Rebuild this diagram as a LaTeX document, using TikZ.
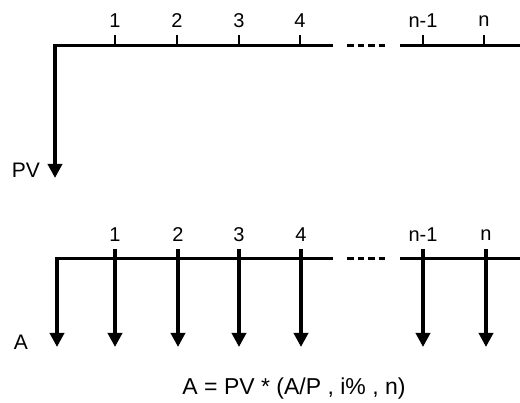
\documentclass[tikz,border=0pt]{standalone}
\usepackage{fontspec}
\setmainfont{Liberation Sans}
\usetikzlibrary{arrows.meta}
\tikzset{
  axis/.style={line width=3pt, line cap=butt},
  down/.style={line width=4pt, -{Triangle[width=14pt,length=14pt]}},
  tick/.style={line width=2pt},
  dots/.style={line width=3pt, dash pattern=on 6.5pt off 4pt},
  num/.style={font=\fontsize{20}{22}\selectfont, inner sep=0pt},
  lbl/.style={font=\fontsize{21}{23}\selectfont, inner sep=0pt},
}
\begin{document}
\begin{tikzpicture}[x=1pt,y=-1pt]
\useasboundingbox[fill=white] (0,0) rectangle (520,403);
% ---------- top diagram ----------
\coordinate (tc) at (55,46);
\coordinate (tpv) at (55,178);
\coordinate (ta) at (333,46);
\coordinate (td1) at (347,46);
\coordinate (td2) at (386,46);
\coordinate (tb) at (400,46);
\coordinate (te) at (520,46);
\draw[axis] (53,46) -- (ta);
\draw[dots] (td1) -- (td2);
\draw[axis] (tb) -- (te);
\draw[down] (55,44.5) -- (tpv);
\foreach \n/\x/\t in {t1/115/1, t2/177/2, t3/239/3, t4/300/4, tn1/423/n-1, tn/484/n}{
  \coordinate (\n) at (\x,46);
  \coordinate (\n u) at (\x,35);
  \draw[tick] (\n) -- (\n u);
  \node[num] (\n l) at (\x,21) {\t};
}
\node[lbl] (pv) at (26,170) {PV};
% ---------- bottom diagram ----------
\coordinate (bc) at (57,259);
\coordinate (ba) at (333,259);
\coordinate (bd1) at (347,259);
\coordinate (bd2) at (386,259);
\coordinate (bb) at (400,259);
\coordinate (be) at (520,259);
\draw[axis] (55,259) -- (ba);
\draw[dots] (bd1) -- (bd2);
\draw[axis] (bb) -- (be);
\coordinate (b0) at (57,347);
\draw[down] (57,257.5) -- (b0);
\foreach \n/\x/\t in {b1/115/1, b2/178/2, b3/239/3, b4/301/4, bn1/423/n-1, bn/486/n}{
  \coordinate (\n u) at (\x,249);
  \coordinate (\n d) at (\x,347);
  \draw[down] (\n u) -- (\n d);
  \node[num] (\n l) at (\x,235) {\t};
}
\node[lbl] (A) at (21,342) {A};
\node[font=\fontsize{23}{25}\selectfont, inner sep=0pt] (formula) at (294,389) {A = PV * (A/P , i\% , n)};
\end{tikzpicture}
\end{document}
